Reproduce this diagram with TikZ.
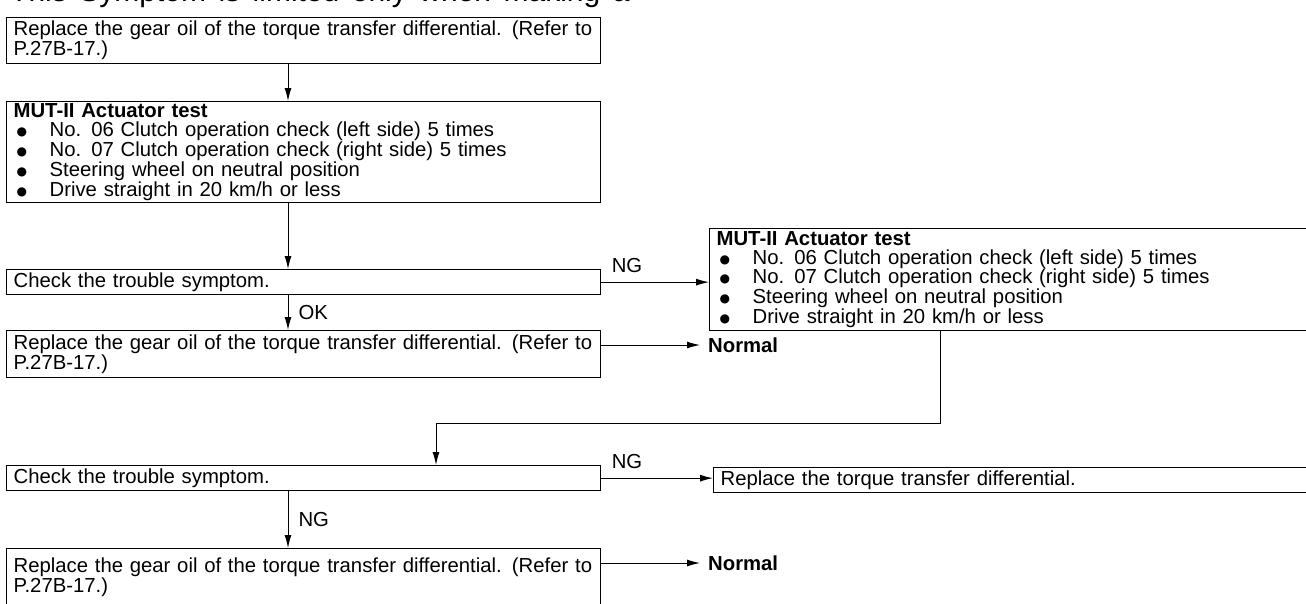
\documentclass[tikz,border=0pt]{standalone}
\usepackage{fontspec}
\setmainfont{Liberation Sans}[WordSpace=1.5]
\newfontfamily\dejavu{DejaVu Sans}
\usetikzlibrary{arrows.meta,calc}
\newcommand\bl[1]{\makebox[36pt][l]{\hspace{3pt}\raisebox{1pt}{\fontsize{12}{12}\selectfont\dejavu ●}}#1}
\newcommand\repl{\mbox{Replace the gear oil of the torque transfer differential. (Refer to}\\P.27B-17.)}
\begin{document}
\begin{tikzpicture}[x=1pt,y=-1pt,
  box/.style={draw, line width=1.3pt, anchor=north west, inner xsep=7pt, inner ysep=0pt,
    align=left, font=\fontsize{20.3}{18.8}\selectfont},
  lbox/.style={box, text width=580pt},
  rbox/.style={box, text width=597pt},
  conn/.style={line width=1pt, -{Latex[length=13pt,width=7pt]}},
  lbl/.style={font=\fontsize{20.3}{18.8}\selectfont, inner sep=0pt},
  nrm/.style={anchor=west, inner ysep=0pt, inner xsep=8pt, font=\bfseries\fontsize{20.3}{18.8}\selectfont}]
\useasboundingbox (0,0) rectangle (1306,603);
\clip (0,0) rectangle (1306,603);
\fill[white] (0,0) rectangle (1306,603);

\node[anchor=base west, font=\fontsize{30}{30}\selectfont, inner sep=0pt] (ttl) at (10,1)
  {This Symptom is limited only when making a};

\node[lbox, minimum height=46pt] (b1) at (6,17) {\repl};
\node[lbox, minimum height=101pt] (b2) at (6,101)
  {\textbf{MUT-II Actuator test}\\
   \bl{No. 06 Clutch operation check (left side) 5 times}\\
   \bl{No. 07 Clutch operation check (right side) 5 times}\\
   \bl{Steering wheel on neutral position}\\
   \bl{Drive straight in 20 km/h or less}};
\node[lbox, minimum height=25pt] (b3) at (6,269) {Check the trouble symptom.};
\node[lbox, minimum height=47pt] (b4) at (6,330) {\repl};
\node[lbox, minimum height=25pt] (b5) at (6,465) {Check the trouble symptom.};
\node[lbox, minimum height=57pt] (b6) at (6,548) {\repl};

\node[rbox, minimum height=102pt] (r1) at (709,228)
  {\textbf{MUT-II Actuator test}\\
   \bl{No. 06 Clutch operation check (left side) 5 times}\\
   \bl{No. 07 Clutch operation check (right side) 5 times}\\
   \bl{Steering wheel on neutral position}\\
   \bl{Drive straight in 20 km/h or less}};
\node[box, text width=593pt, minimum height=25pt] (r2) at (713,467)
  {Replace the torque transfer differential.};

\node[nrm] (n1) at (700,345) {Normal};
\node[nrm] (n2) at (700,563) {Normal};

\coordinate (cx) at (288,0);
\coordinate (k1) at (940,423);
\coordinate (k2) at (436,423);

\draw[conn] (cx |- b1.south) -- (cx |- b2.north);
\draw[conn] (cx |- b2.south) -- (cx |- b3.north);
\draw[conn] (cx |- b3.south) -- node[lbl, right=10pt] (ok) {OK} (cx |- b4.north);
\draw[conn] (b3.east) -- node[lbl, pos=0, anchor=south west, xshift=10pt, yshift=9pt] (ng1) {NG} (b3.east -| r1.west);
\draw[conn] (b4.east |- n1.west) -- (n1.west);
\draw[conn] (k1 |- r1.south) -- (k1) -- (k2) -- (k2 |- b5.north);
\draw[conn] (b5.east) -- node[lbl, pos=0, anchor=south west, xshift=10pt, yshift=9pt] (ng2) {NG} (b5.east -| r2.west);
\draw[conn] (cx |- b5.south) -- node[lbl, right=10pt] (ng3) {NG} (cx |- b6.north);
\draw[conn] (b6.east |- n2.west) -- (n2.west);
\end{tikzpicture}
\end{document}
